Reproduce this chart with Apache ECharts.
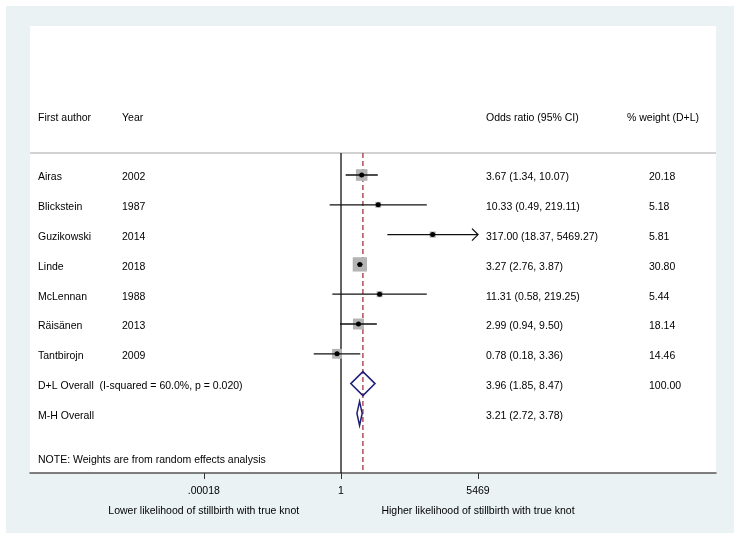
<!DOCTYPE html>
<html>
<head>
<meta charset="utf-8">
<script src="https://cdn.jsdelivr.net/npm/echarts@6/dist/echarts.min.js"></script>
<style>
  html, body { margin: 0; padding: 0; background: #ffffff; }
  #frame { position: absolute; left: 6px; top: 6px; width: 728px; height: 527px; background: #eaf2f3; }
  #chart { position: absolute; left: 0; top: 0; width: 740px; height: 539px; }
</style>
</head>
<body>
<div id="frame"></div>
<div id="chart"></div>
<script>
// ---------- data ----------
const AUTHORS = ['Airas', 'Blickstein', 'Guzikowski', 'Linde', 'McLennan', 'Räisänen', 'Tantbirojn'];
const YEARS = ['2002', '1987', '2014', '2018', '1988', '2013', '2009'];
const OR = [3.67, 10.33, 317.00, 3.27, 11.31, 2.99, 0.78];
const LO = [1.34, 0.49, 18.37, 2.76, 0.58, 0.94, 0.18];
const HI = [10.07, 219.11, 5469.27, 3.87, 219.25, 9.50, 3.36];
const WEIGHT = [20.18, 5.18, 5.81, 30.80, 5.44, 18.14, 14.46];

const POOLED_LABELS = ['D+L Overall  (I-squared = 60.0%, p = 0.020)', 'M-H Overall'];
const POOLED_OR = [3.96, 3.21];
const POOLED_LO = [1.85, 2.72];
const POOLED_HI = [8.47, 3.78];
const POOLED_WEIGHT = ['100.00', ''];

const HEADERS = ['First author', 'Year', 'Odds ratio (95% CI)', '% weight (D+L)'];
const TICK_VALUES = [0.00018, 1, 5469];
const TICK_LABELS = ['.00018', '1', '5469'];
const AXIS_TITLES = ['Lower likelihood of stillbirth with true knot', '', 'Higher likelihood of stillbirth with true knot'];
const NOTE = 'NOTE: Weights are from random effects analysis';
const OVERALL_LINE = 3.96;

// ---------- layout / style ----------
const X_MIN_LN = -19.54, X_MAX_LN = 23.56;
const AXIS_MAX_OR = 5469;
const Y_MIN = -5, Y_MAX = 10;
const SEP_ROW = -0.74, HEADER_ROW = -2, NOTE_ROW = 9.5;
const COL_AUTHOR = 38, COL_YEAR = 122, COL_OR = 486, COL_WT_HEAD = 627, COL_WT = 649;
const TEXT_DY = 2.5;
const FONT = '10.5px "Liberation Sans", Arial, sans-serif';
const BOX_SCALE = 2.58;
const fmt = v => v.toFixed(2);

// text items
const texts = [];
HEADERS.forEach((h, i) => texts.push({ x: [COL_AUTHOR, COL_YEAR, COL_OR, COL_WT_HEAD][i], row: HEADER_ROW, t: h }));
AUTHORS.forEach((a, i) => {
  texts.push({ x: COL_AUTHOR, row: i, t: a });
  texts.push({ x: COL_YEAR, row: i, t: YEARS[i] });
  texts.push({ x: COL_OR, row: i, t: fmt(OR[i]) + ' (' + fmt(LO[i]) + ', ' + fmt(HI[i]) + ')' });
  texts.push({ x: COL_WT, row: i, t: fmt(WEIGHT[i]) });
});
POOLED_LABELS.forEach((l, j) => {
  const row = AUTHORS.length + j;
  texts.push({ x: COL_AUTHOR, row: row, t: l });
  texts.push({ x: COL_OR, row: row, t: fmt(POOLED_OR[j]) + ' (' + fmt(POOLED_LO[j]) + ', ' + fmt(POOLED_HI[j]) + ')' });
  if (POOLED_WEIGHT[j]) texts.push({ x: COL_WT, row: row, t: POOLED_WEIGHT[j] });
});
texts.push({ x: COL_AUTHOR, row: NOTE_ROW, t: NOTE });

const chart = echarts.init(document.getElementById('chart'), null, { renderer: 'canvas' });
const tickLn = TICK_VALUES.map(v => Math.log(v));

chart.setOption({
  animation: false,
  backgroundColor: 'transparent',
  grid: { left: 30, right: 24, top: 26, bottom: 66, show: true, backgroundColor: '#ffffff', borderWidth: 0 },
  xAxis: [
    {
      type: 'value', min: X_MIN_LN, max: X_MAX_LN, position: 'bottom',
      axisLine: { show: true, onZero: false, lineStyle: { color: '#555555', width: 1.5 } },
      axisTick: { show: true, length: 6, customValues: tickLn, lineStyle: { color: '#333333', width: 1 } },
      axisLabel: {
        show: true, customValues: tickLn, margin: 8, lineHeight: 20,
        color: '#000000', fontSize: 10.5, fontFamily: '"Liberation Sans", Arial, sans-serif',
        formatter: function (v) {
          let k = 0, best = Infinity;
          tickLn.forEach((t, i) => { if (Math.abs(t - v) < best) { best = Math.abs(t - v); k = i; } });
          return AXIS_TITLES[k] ? TICK_LABELS[k] + '\n' + AXIS_TITLES[k] : TICK_LABELS[k];
        }
      },
      splitLine: { show: false }
    },
    { type: 'value', min: 30, max: 716, show: false }
  ],
  yAxis: [{ type: 'value', min: Y_MIN, max: Y_MAX, inverse: true, show: false }],
  series: [
    { // header separator
      type: 'line', xAxisIndex: 1, yAxisIndex: 0, silent: true, symbol: 'none', z: 1,
      data: [[30, SEP_ROW], [716, SEP_ROW]],
      lineStyle: { color: '#d2d2d2', width: 2 }
    },
    { // null line OR = 1
      type: 'line', xAxisIndex: 0, yAxisIndex: 0, silent: true, symbol: 'none', z: 2,
      data: [[Math.log(1), SEP_ROW], [Math.log(1), Y_MAX]],
      lineStyle: { color: '#111111', width: 1.3 }
    },
    { // overall estimate dashed line
      type: 'line', xAxisIndex: 0, yAxisIndex: 0, silent: true, symbol: 'none', z: 2,
      data: [[Math.log(OVERALL_LINE), SEP_ROW], [Math.log(OVERALL_LINE), Y_MAX]],
      lineStyle: { color: '#962432', width: 1.2, type: [5, 3] }
    },
    { // studies
      type: 'custom', xAxisIndex: 0, yAxisIndex: 0, clip: false, z: 3,
      data: AUTHORS.map((a, i) => [i, OR[i], LO[i], HI[i], WEIGHT[i]]),
      renderItem: function (params, api) {
        const row = api.value(0), or = api.value(1), lo = api.value(2), hi = api.value(3), w = api.value(4);
        const pm = api.coord([Math.log(or), row]);
        const pl = api.coord([Math.log(lo), row]);
        const ph = api.coord([Math.log(Math.min(hi, AXIS_MAX_OR)), row]);
        const s = BOX_SCALE * Math.sqrt(w);
        const children = [
          { type: 'rect', shape: { x: pm[0] - s / 2, y: pm[1] - s / 2, width: s, height: s }, style: { fill: '#b4b4b4' } },
          { type: 'line', shape: { x1: pl[0], y1: pl[1], x2: ph[0], y2: ph[1] }, style: { stroke: '#111111', lineWidth: 1.3 } },
          { type: 'circle', shape: { cx: pm[0], cy: pm[1], r: 2.5 }, style: { fill: '#000000' } }
        ];
        if (hi > AXIS_MAX_OR) {
          children.push({ type: 'polyline', shape: { points: [[ph[0] - 6, ph[1] - 6], [ph[0], ph[1]], [ph[0] - 6, ph[1] + 6]] },
            style: { stroke: '#111111', lineWidth: 1.3, fill: null } });
        }
        return { type: 'group', children: children };
      }
    },
    { // pooled diamonds
      type: 'custom', xAxisIndex: 0, yAxisIndex: 0, clip: false, z: 4,
      data: POOLED_OR.map((v, j) => [AUTHORS.length + j, v, POOLED_LO[j], POOLED_HI[j]]),
      renderItem: function (params, api) {
        const row = api.value(0);
        const pm = api.coord([Math.log(api.value(1)), row]);
        const pl = api.coord([Math.log(api.value(2)), row]);
        const ph = api.coord([Math.log(api.value(3)), row]);
        const h = 12;
        return {
          type: 'polygon',
          shape: { points: [[pl[0], pl[1]], [pm[0], pm[1] - h], [ph[0], ph[1]], [pm[0], pm[1] + h]] },
          style: { stroke: '#1e1e78', lineWidth: 1.5, fill: null }
        };
      }
    },
    { // text columns
      type: 'custom', xAxisIndex: 1, yAxisIndex: 0, clip: false, z: 5,
      data: texts.map(t => [t.x, t.row]),
      renderItem: function (params, api) {
        const p = api.coord([api.value(0), api.value(1)]);
        return {
          type: 'text', x: p[0], y: p[1] + TEXT_DY,
          style: { text: texts[params.dataIndex].t, fill: '#000000', font: FONT, textAlign: 'left', textVerticalAlign: 'middle' }
        };
      }
    }
  ]
});
</script>
</body>
</html>
